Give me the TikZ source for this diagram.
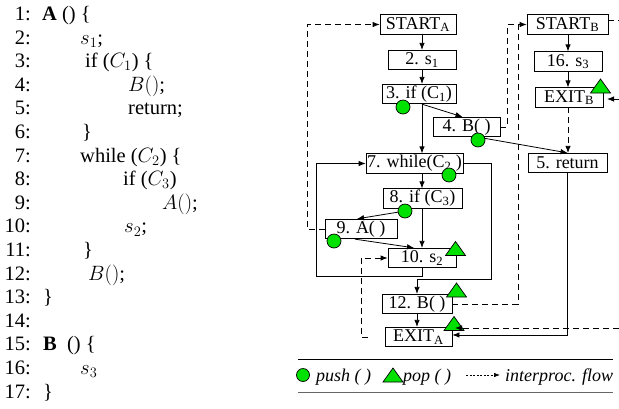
\documentclass[tikz,border=0pt]{standalone}
\usepackage{fontspec}
\setmainfont{Liberation Serif}
\usetikzlibrary{arrows.meta}
\definecolor{pushgreen}{RGB}{0,225,0}
\begin{document}
\begin{tikzpicture}[x=1pt,y=-1pt,
  box/.style={draw, line width=0.8pt, inner sep=0pt, minimum height=19.5pt, font=\fontsize{18}{18}\selectfont},
  flow/.style={line width=0.8pt, -{Latex[length=7pt,width=5.5pt]}},
  ipf/.style={line width=0.8pt, dash pattern=on 6pt off 4pt},
  pushm/.style={circle, draw, line width=0.7pt, fill=pushgreen, minimum size=14pt, inner sep=0pt},
  codenum/.style={anchor=base east, inner sep=0pt, font=\fontsize{20.5}{20.5}\selectfont},
  codetxt/.style={anchor=base west, inner sep=0pt, font=\fontsize{20.5}{20.5}\selectfont},
  legtxt/.style={anchor=base west, inner sep=0pt, font=\fontsize{18}{18}\selectfont\itshape},
  pop/.pic={\draw[line width=0.7pt, fill=pushgreen] (-10,7) -- (0,-7) -- (10,7) -- cycle;}
]
\useasboundingbox (0,0) rectangle (619,408);

% ---------------- code listing ----------------
\foreach \n [count=\i from 0] in {1,...,17} {
  \node[codenum] (n\n) at (31,20.5+23.6*\i) {\n:};
}
\node[codetxt] (l1) at (42,20.5) {\textbf{A} () \{};
\node[codetxt] (l2) at (80,44.1) {$s_1$;};
\node[codetxt] (l3) at (85,67.7) {if ($C_1$) \{};
\node[codetxt] (l4) at (128,91.3) {$B()$;};
\node[codetxt] (l5) at (128,114.9) {return;};
\node[codetxt] (l6) at (82,138.5) {\}};
\node[codetxt] (l7) at (80,162.1) {while ($C_2$) \{};
\node[codetxt] (l8) at (123,185.7) {if ($C_3$)};
\node[codetxt] (l9) at (162,209.3) {$A()$;};
\node[codetxt] (l10) at (124,232.9) {$s_2$;};
\node[codetxt] (l11) at (83,256.5) {\}};
\node[codetxt] (l12) at (88,280.1) {$B()$;};
\node[codetxt] (l13) at (43,303.7) {\}};
\node[codetxt] (l15) at (43,350.9) {\textbf{B}\ \ () \{};
\node[codetxt] (l16) at (80,374.5) {$s_3$};
\node[codetxt] (l17) at (43,398.1) {\}};

% ---------------- CFG nodes ----------------
\node[box, minimum width=76pt] (startA) at (418,24.5) {START\textsubscript{A}};
\node[box, minimum width=68pt] (s1) at (422,60) {2. s\textsubscript{1}};
\node[box, minimum width=74pt] (if1) at (419,94) {3. if (C\textsubscript{1})};
\node[box, minimum width=67pt] (b4) at (466.5,127) {4. B( )};
\node[box, minimum width=81pt] (startB) at (567.5,24.5) {START\textsubscript{B}};
\node[box, minimum width=68pt] (s3) at (568,61.5) {16. s\textsubscript{3}};
\node[box, minimum width=68pt] (exitB) at (569,97.5) {EXIT\textsubscript{B}};
\node[box, minimum width=79pt] (ret) at (567.5,163) {5. return};
\node[box, minimum width=97pt] (wh) at (414.5,163.5) {7. while(C\textsubscript{2} )};
\node[box, minimum width=79pt] (if3) at (422.5,198.5) {8. if (C\textsubscript{3})};
\node[box, minimum width=72pt] (a9) at (361,229) {9. A( )};
\node[box, minimum width=68pt] (s2) at (422,258) {10. s\textsubscript{2}};
\node[box, minimum width=70pt] (b12) at (417,304) {12. B( )};
\node[box, minimum width=67pt] (exitA) at (418.5,337) {EXIT\textsubscript{A}};

% pop markers (drawn under the arrows)
\pic at (600.5,86) {pop};
\pic at (455.5,248.5) {pop};
\pic at (456.5,290) {pop};
\pic at (454,323.5) {pop};

% push marker positions
\coordinate (p1) at (403,107);
\coordinate (p2) at (478,140);
\coordinate (p3) at (449,175);
\coordinate (p4) at (405,211);
\coordinate (p5) at (334,241);

% ---------------- intraprocedural flow ----------------
\draw[flow] (startA.south -| s1.north) -- (s1.north);
\draw[flow] (s1.south) -- (if1.north -| s1.south);
\draw[flow] (if1.south -| s1.south) -- (wh.north -| s1.south);
\draw[flow] (if1.south -| s1.south) -- ([xshift=-4pt]b4.north);
\draw[flow] ([xshift=11.5pt]b4.south) -- (ret.north);
\draw[flow] (wh.south -| s1.south) -- (if3.north -| s1.south);
\draw[flow] (if3.south -| s1.south) -- (s2.north);
\draw[flow] (p4) -- ([xshift=-4pt]a9.north);
\draw[flow] ([xshift=-6pt]a9.south) -- ([xshift=-8pt]s2.north);
\draw[flow] (s2.south) -- (422,276) -- (316,276) -- (316,163.5) -- (wh.west);
\draw[flow] (wh.east) -- (491,163.5) -- (491,279) -- (417,279) -- (b12.north);
\draw[flow] (b12.south) -- (b12.south |- exitA.north);
\draw[flow] (startB.south -| s3.north) -- (s3.north);
\draw[flow] (s3.south) -- (s3.south |- exitB.north);
\draw[flow] (ret.south) |- ([yshift=2pt]exitA.east);

% ---------------- interprocedural flow ----------------
\coordinate (rB0) at (619,20);
\coordinate (rB1) at (619,99);
\coordinate (tipB) at (607,99);
\coordinate (rA) at (619,328);
\coordinate (tipA) at (455,328);
\coordinate (rA2) at (368,337);
\coordinate (eBs) at (568,107);
\draw[ipf, flow] (a9.west) -- (307,229) -- (307,24.5) -- (startA.west);
\draw[ipf, flow] (b4.east) -- (507,127) -- (507,24.5) -- (startB.west);
\draw[ipf] (b12.east) -- (518,304) -- (518,24.5);
\draw[ipf, flow] (eBs) -- (eBs |- ret.north);
\draw[ipf] ([yshift=4.5pt]startB.east) -- (rB0);
\draw[ipf, flow] (rB1) -- (tipB);
\draw[ipf, flow] (rA) -- (tipA);
\draw[ipf, flow] (rA2) -- (361,337) -- (361,258) -- (s2.west);

% push markers on top
\node[pushm] (c1) at (p1) {};
\node[pushm] (c2) at (p2) {};
\node[pushm] (c3) at (p3) {};
\node[pushm] (c4) at (p4) {};
\node[pushm] (c5) at (p5) {};

% ---------------- legend ----------------
\draw[line width=0.8pt] (298,359) -- (613,359);
\draw[line width=0.8pt, black!60] (298,392) -- (613,392);
\node[pushm, minimum size=13pt] (lc) at (303,375) {};
\node[legtxt] (lpush) at (316,381) {push ( )};
\pic at (393,375) {pop};
\node[legtxt] (lpop) at (403,381) {pop ( )};
\coordinate (la1) at (466,375);
\coordinate (la2) at (500,375);
\draw[line width=0.7pt, dash pattern=on 2pt off 1.5pt, -{Latex[length=6pt,width=4.5pt]}] (la1) -- (la2);
\node[legtxt] (lflow) at (505,381) {interproc. flow};
\end{tikzpicture}
\end{document}
